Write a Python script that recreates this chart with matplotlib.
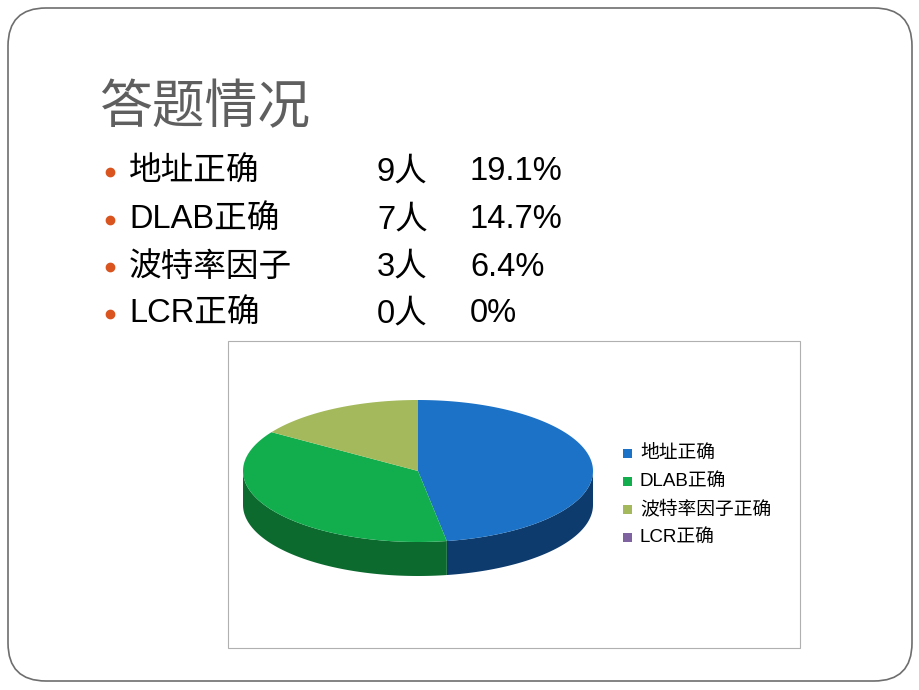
import numpy as np
import matplotlib.pyplot as plt
from matplotlib.patches import FancyBboxPatch, Rectangle, Polygon

plt.rcParams['font.family'] = ['Liberation Sans', 'Noto Sans CJK SC', 'DejaVu Sans']

# data
title = '答题情况'
items = ['地址正确', 'DLAB正确', '波特率因子', 'LCR正确']
counts = [9, 7, 3, 0]
count_labels = ['9人', '7人', '3人', '0人']
percents = ['19.1%', '14.7%', '6.4%', '0%']
legend_labels = ['地址正确', 'DLAB正确', '波特率因子正确', 'LCR正确']
top_colors = ['#1b72c6', '#12ae4e', '#a3b95b', '#7f62a0']
side_colors = ['#0d3b6e', '#0c6a2f', '#637336', '#4c3a62']

fig = plt.figure(figsize=(9.2, 6.9), dpi=100)
ax = fig.add_axes([0, 0, 1, 1])
ax.set_xlim(0, 920)
ax.set_ylim(690, 0)
ax.axis('off')

# slide border
ax.add_patch(FancyBboxPatch((8, 8), 904, 673, boxstyle='round,pad=0,rounding_size=38',
                            fc='white', ec='#6e6e6e', lw=1.2))

ax.text(99, 108, title, fontsize=38, color='#5f5f5f', va='center', ha='left',
        family=['Noto Sans CJK SC'], fontweight='light')

ys = [172, 220, 267, 314]
for y, it, c, p in zip(ys, items, count_labels, percents):
    ax.plot(110, y, 'o', color='#d9541e', ms=6)
    ax.text(129, y, it, fontsize=23.5, va='center', ha='left', color='black')
    ax.text(377, y, c, fontsize=23.5, va='center', ha='left', color='black')
    ax.text(470, y, p, fontsize=23.5, va='center', ha='left', color='black')

# chart frame
ax.add_patch(Rectangle((228, 341), 572, 307, fc='white', ec='#b0b0b0', lw=0.8))

# 3d pie
cx, cy, a, b, depth = 418, 471, 175, 71, 34
total = sum(counts)
start = 90.0
wedges = []
for v in counts:
    sweep = 360.0 * v / total
    wedges.append((start - sweep, start))
    start -= sweep

def pt(t, dy=0):
    r = np.radians(t)
    return cx + a * np.cos(r), cy - b * np.sin(r) + dy

# sides (front half only: angles 180..360)
for (t0, t1), sc in zip(wedges, side_colors):
    if t1 <= t0:
        continue
    for k in (-360, 0):
        lo = max(t0 - k, 180)
        hi = min(t1 - k, 360)
        if hi > lo:
            ts = np.linspace(lo, hi, 80)
            top = [pt(t) for t in ts]
            bot = [pt(t, depth) for t in ts[::-1]]
            ax.add_patch(Polygon(top + bot, closed=True, fc=sc, ec='none'))

# tops
for (t0, t1), tc in zip(wedges, top_colors):
    if t1 <= t0:
        continue
    ts = np.linspace(t0, t1, 150)
    pts = [(cx, cy)] + [pt(t) for t in ts]
    ax.add_patch(Polygon(pts, closed=True, fc=tc, ec='none'))

# legend
for i, (lab, col) in enumerate(zip(legend_labels, top_colors)):
    y = 453 + i * 28
    ax.add_patch(Rectangle((623, y - 4.5), 9, 9, fc=col, ec='none'))
    ax.text(640, y, lab, fontsize=13.5, va='center', ha='left', color='black')

fig.savefig('out.png', dpi=100)
